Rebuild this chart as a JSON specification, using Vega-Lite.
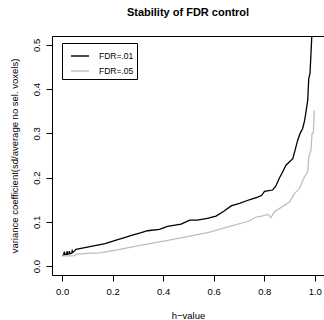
{
  "$schema": "https://vega.github.io/schema/vega-lite/v6.json",
  "autosize": "none",
  "padding": {"left": 52, "top": 36, "right": 0, "bottom": 45},
  "width": 272,
  "height": 239,
  "background": "white",
  "config": {
    "font": "Liberation Sans",
    "view": {"stroke": "black", "strokeWidth": 1}
  },
  "title": {
    "text": "Stability of FDR control",
    "fontSize": 11,
    "fontWeight": "bold",
    "font": "Liberation Sans",
    "color": "black",
    "anchor": "middle",
    "offset": 18
  },
  "data": {
    "values": [
      {"series": "FDR=.01", "h": 0.000, "cv": 0.024},
      {"series": "FDR=.01", "h": 0.006, "cv": 0.025},
      {"series": "FDR=.01", "h": 0.009, "cv": 0.033},
      {"series": "FDR=.01", "h": 0.011, "cv": 0.026},
      {"series": "FDR=.01", "h": 0.018, "cv": 0.027},
      {"series": "FDR=.01", "h": 0.020, "cv": 0.034},
      {"series": "FDR=.01", "h": 0.022, "cv": 0.027},
      {"series": "FDR=.01", "h": 0.027, "cv": 0.028},
      {"series": "FDR=.01", "h": 0.029, "cv": 0.034},
      {"series": "FDR=.01", "h": 0.031, "cv": 0.028},
      {"series": "FDR=.01", "h": 0.038, "cv": 0.029},
      {"series": "FDR=.01", "h": 0.040, "cv": 0.035},
      {"series": "FDR=.01", "h": 0.043, "cv": 0.031},
      {"series": "FDR=.01", "h": 0.055, "cv": 0.038},
      {"series": "FDR=.01", "h": 0.090, "cv": 0.042},
      {"series": "FDR=.01", "h": 0.135, "cv": 0.047},
      {"series": "FDR=.01", "h": 0.170, "cv": 0.051},
      {"series": "FDR=.01", "h": 0.214, "cv": 0.059},
      {"series": "FDR=.01", "h": 0.250, "cv": 0.065},
      {"series": "FDR=.01", "h": 0.278, "cv": 0.070},
      {"series": "FDR=.01", "h": 0.310, "cv": 0.075},
      {"series": "FDR=.01", "h": 0.338, "cv": 0.080},
      {"series": "FDR=.01", "h": 0.385, "cv": 0.083},
      {"series": "FDR=.01", "h": 0.417, "cv": 0.090},
      {"series": "FDR=.01", "h": 0.471, "cv": 0.095},
      {"series": "FDR=.01", "h": 0.505, "cv": 0.104},
      {"series": "FDR=.01", "h": 0.535, "cv": 0.104},
      {"series": "FDR=.01", "h": 0.575, "cv": 0.108},
      {"series": "FDR=.01", "h": 0.609, "cv": 0.113},
      {"series": "FDR=.01", "h": 0.640, "cv": 0.124},
      {"series": "FDR=.01", "h": 0.669, "cv": 0.136},
      {"series": "FDR=.01", "h": 0.702, "cv": 0.142},
      {"series": "FDR=.01", "h": 0.741, "cv": 0.150},
      {"series": "FDR=.01", "h": 0.774, "cv": 0.156},
      {"series": "FDR=.01", "h": 0.790, "cv": 0.160},
      {"series": "FDR=.01", "h": 0.801, "cv": 0.169},
      {"series": "FDR=.01", "h": 0.833, "cv": 0.172},
      {"series": "FDR=.01", "h": 0.845, "cv": 0.180},
      {"series": "FDR=.01", "h": 0.859, "cv": 0.198},
      {"series": "FDR=.01", "h": 0.872, "cv": 0.212},
      {"series": "FDR=.01", "h": 0.886, "cv": 0.228},
      {"series": "FDR=.01", "h": 0.900, "cv": 0.236},
      {"series": "FDR=.01", "h": 0.913, "cv": 0.243},
      {"series": "FDR=.01", "h": 0.922, "cv": 0.262},
      {"series": "FDR=.01", "h": 0.932, "cv": 0.284},
      {"series": "FDR=.01", "h": 0.942, "cv": 0.300},
      {"series": "FDR=.01", "h": 0.952, "cv": 0.311},
      {"series": "FDR=.01", "h": 0.960, "cv": 0.330},
      {"series": "FDR=.01", "h": 0.966, "cv": 0.352},
      {"series": "FDR=.01", "h": 0.972, "cv": 0.375},
      {"series": "FDR=.01", "h": 0.976, "cv": 0.424},
      {"series": "FDR=.01", "h": 0.981, "cv": 0.435},
      {"series": "FDR=.01", "h": 0.988, "cv": 0.518},
      {"series": "FDR=.01", "h": 0.995, "cv": 0.600},
      {"series": "FDR=.05", "h": 0.000, "cv": 0.023},
      {"series": "FDR=.05", "h": 0.030, "cv": 0.023},
      {"series": "FDR=.05", "h": 0.049, "cv": 0.024},
      {"series": "FDR=.05", "h": 0.055, "cv": 0.027},
      {"series": "FDR=.05", "h": 0.100, "cv": 0.029},
      {"series": "FDR=.05", "h": 0.148, "cv": 0.030},
      {"series": "FDR=.05", "h": 0.214, "cv": 0.036},
      {"series": "FDR=.05", "h": 0.293, "cv": 0.045},
      {"series": "FDR=.05", "h": 0.385, "cv": 0.055},
      {"series": "FDR=.05", "h": 0.424, "cv": 0.059},
      {"series": "FDR=.05", "h": 0.505, "cv": 0.068},
      {"series": "FDR=.05", "h": 0.584, "cv": 0.077},
      {"series": "FDR=.05", "h": 0.663, "cv": 0.090},
      {"series": "FDR=.05", "h": 0.741, "cv": 0.102},
      {"series": "FDR=.05", "h": 0.768, "cv": 0.111},
      {"series": "FDR=.05", "h": 0.790, "cv": 0.113},
      {"series": "FDR=.05", "h": 0.814, "cv": 0.117},
      {"series": "FDR=.05", "h": 0.827, "cv": 0.110},
      {"series": "FDR=.05", "h": 0.840, "cv": 0.123},
      {"series": "FDR=.05", "h": 0.873, "cv": 0.135},
      {"series": "FDR=.05", "h": 0.900, "cv": 0.145},
      {"series": "FDR=.05", "h": 0.919, "cv": 0.164},
      {"series": "FDR=.05", "h": 0.939, "cv": 0.175},
      {"series": "FDR=.05", "h": 0.959, "cv": 0.202},
      {"series": "FDR=.05", "h": 0.972, "cv": 0.213},
      {"series": "FDR=.05", "h": 0.976, "cv": 0.247},
      {"series": "FDR=.05", "h": 0.985, "cv": 0.262},
      {"series": "FDR=.05", "h": 0.989, "cv": 0.300},
      {"series": "FDR=.05", "h": 0.994, "cv": 0.300},
      {"series": "FDR=.05", "h": 0.998, "cv": 0.352}
    ]
  },
  "mark": {"type": "line", "clip": true, "strokeWidth": 1.3},
  "encoding": {
    "x": {
      "field": "h",
      "type": "quantitative",
      "scale": {"domain": [-0.04, 1.0364], "nice": false, "zero": false},
      "axis": {
        "title": "h\u2212value",
        "values": [0, 0.2, 0.4, 0.6, 0.8, 1.0],
        "format": ".1f",
        "grid": false,
        "domain": false,
        "tickColor": "black",
        "tickSize": 6,
        "labelFontSize": 9.5,
        "labelColor": "black",
        "labelPadding": 5,
        "titleFontSize": 9.5,
        "titleFontWeight": "normal",
        "titleColor": "black",
        "titlePadding": 15
      }
    },
    "y": {
      "field": "cv",
      "type": "quantitative",
      "scale": {"domain": [-0.02, 0.52], "nice": false, "zero": false},
      "axis": {
        "title": "variance coefficient(sd/average no sel. voxels)",
        "values": [0, 0.1, 0.2, 0.3, 0.4, 0.5],
        "format": ".1f",
        "grid": false,
        "domain": false,
        "tickColor": "black",
        "tickSize": 6,
        "labelFontSize": 9.5,
        "labelColor": "black",
        "labelAngle": 270,
        "labelAlign": "center",
        "labelBaseline": "bottom",
        "labelPadding": 5,
        "titleFontSize": 9.5,
        "titleFontWeight": "normal",
        "titleColor": "black",
        "titlePadding": 12
      }
    },
    "color": {
      "field": "series",
      "type": "nominal",
      "scale": {"domain": ["FDR=.01", "FDR=.05"], "range": ["#000000", "#bebebe"]},
      "legend": {
        "title": null,
        "orient": "none",
        "legendX": 10,
        "legendY": 7,
        "strokeColor": "black",
        "padding": 3,
        "symbolType": "stroke",
        "symbolSize": 324,
        "symbolOffset": 5,
        "symbolStrokeWidth": 1.4,
        "labelFontSize": 8.5,
        "labelColor": "black",
        "labelOffset": 9,
        "rowPadding": -3,
        "cornerRadius": 0
      }
    }
  }
}
